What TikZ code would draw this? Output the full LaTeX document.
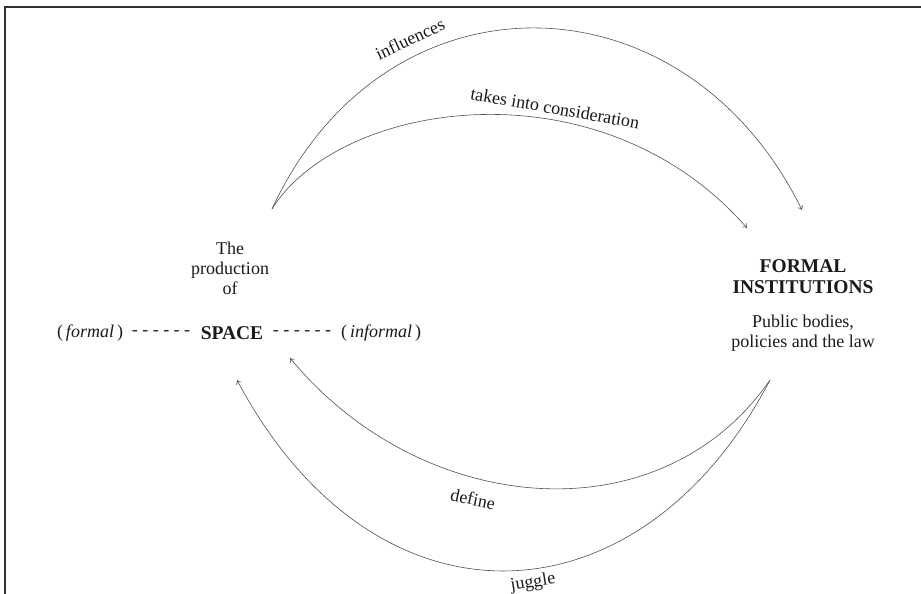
\documentclass[tikz,border=0pt]{standalone}
\usepackage{fontspec}
\setmainfont{Liberation Serif}
\usetikzlibrary{arrows.meta}
\definecolor{linec}{HTML}{505050}
\definecolor{textc}{HTML}{1A1A1A}
\begin{document}
\begin{tikzpicture}[x=1pt,y=-1pt,
  txt/.style={inner sep=0pt, text=textc, font=\fontsize{18}{20}\selectfont, align=center},
  btxt/.style={inner sep=0pt, text=textc, font=\fontsize{19.5}{21}\selectfont\bfseries, align=center},
  lbl/.style={inner sep=0pt, text=textc, font=\fontsize{18}{20}\selectfont},
  conn/.style={draw=linec, line width=0.6pt, -{To[length=4pt,width=6pt]}}]
\useasboundingbox (0,0) rectangle (921,594);
% frame
\draw[line width=1.6pt, draw=black!80] (5,594) -- (5,7) -- (921,7);
% texts
\node[txt] (prod) at (230,268) {The\\production\\of};
\node[txt] (formal) at (90,333) {(\,\textit{formal}\,)};
\node[txt] (dashL) at (161,333) {- - - - - -};
\node[btxt] (space) at (232,333) {SPACE};
\node[txt] (dashR) at (302,333) {- - - - - -};
\node[txt] (informal) at (381,333) {(\,\textit{informal}\,)};
\node[btxt] (fi) at (803,277) {FORMAL\\INSTITUTIONS};
\node[txt] (pb) at (803,333) {Public bodies,\\policies and the law};
% anchor coordinates
\coordinate (sTop) at (272,209);
\coordinate (fTopA) at (802,210);
\coordinate (fTopB) at (747,228);
\coordinate (fBot) at (770,380);
\coordinate (sBotA) at (290,358);
\coordinate (sBotB) at (237,380);
% connectors
\draw[conn] (sTop) .. controls (385,-35) and (684,-30) .. (fTopA);
\draw[conn] (sTop) .. controls (340,100) and (600,60) .. (fTopB);
\draw[conn] (fBot) .. controls (660,539) and (421,517) .. (sBotA);
\draw[conn] (fBot) .. controls (640,629) and (375,640) .. (sBotB);
% labels
\node[lbl, rotate=25] (linf) at (410,39) {influences};
\node[lbl, rotate=-10] (ltic) at (555,108) {takes into consideration};
\node[lbl, rotate=-12] (ldef) at (473,499) {define};
\node[lbl, rotate=9] (ljug) at (533,583) {juggle};
\end{tikzpicture}
\end{document}
